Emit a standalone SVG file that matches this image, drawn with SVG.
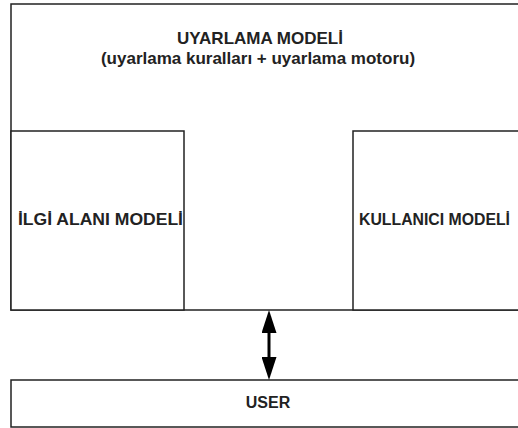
<svg xmlns="http://www.w3.org/2000/svg" width="518" height="428" viewBox="0 0 518 428">
<style>
.box{fill:#fff;stroke:#222;stroke-width:1.5}
.t{font-family:"Liberation Sans",Arial,sans-serif;font-weight:bold;font-size:17px;fill:#222}
.c{stroke:#000;stroke-width:3}
</style>
<defs>
<marker id="ah" viewBox="0 0 23 15" refX="0" refY="7.5" markerWidth="23" markerHeight="15" markerUnits="userSpaceOnUse" orient="auto-start-reverse">
<path d="M0,0 L23,7.5 L0,15 Z" fill="#000"/>
</marker>
</defs>
<rect width="518" height="428" fill="#fff"/>
<g id="uyarlama">
<rect class="box" x="11" y="4" width="520" height="306"/>
<text class="t" x="260" y="44" text-anchor="middle">UYARLAMA MODELİ</text>
<text class="t" x="258" y="64" text-anchor="middle">(uyarlama kuralları + uyarlama motoru)</text>
</g>
<g id="ilgi">
<rect class="box" x="11" y="131" width="173" height="179"/>
<text class="t" x="18" y="225" textLength="165" lengthAdjust="spacingAndGlyphs">İLGİ ALANI MODELİ</text>
</g>
<g id="kullanici">
<rect class="box" x="353" y="131" width="180" height="179"/>
<text class="t" x="359" y="225" textLength="151" lengthAdjust="spacingAndGlyphs">KULLANICI MODELİ</text>
</g>
<g id="user">
<rect class="box" x="11" y="380" width="520" height="47"/>
<text class="t" x="268" y="408" text-anchor="middle" style="font-size:16px">USER</text>
</g>
<g id="connectors">
<line class="c" x1="269" y1="333" x2="269" y2="357" marker-start="url(#ah)" marker-end="url(#ah)"/>
</g>
</svg>
